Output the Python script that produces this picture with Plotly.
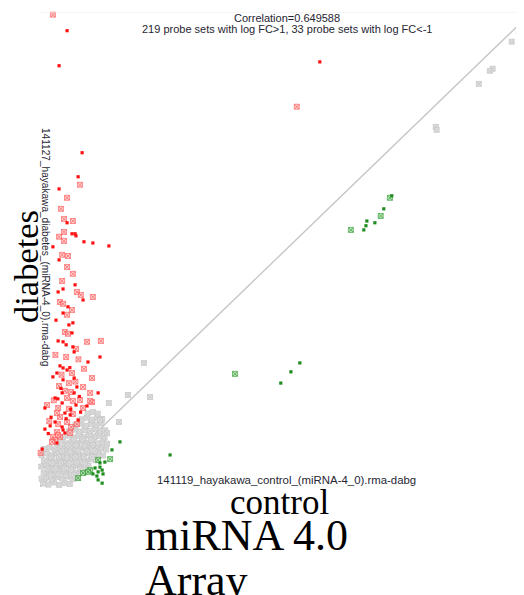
import plotly.graph_objects as go

# ---- data (log2 signal, control on x, diabetes on y) ----
red_dot_x = [0.88, 0.62, 9.10, 1.37, 1.24, 0.62, 0.88, 1.04, 1.14, 1.17, 1.43, 1.72, 2.24, 0.42, 0.62,
             1.14, 0.75, 0.59, 1.40, 0.91, 0.75, 1.07, 0.94, 1.04, 0.59, 0.75, 0.85, 1.07, 1.11, 1.95,
             1.56, 0.65, 0.75, 0.88, 0.55, 1.11, 0.42, 0.75, 1.20, 1.11, 0.72, 0.49, 0.72, 1.17, 0.16,
             0.81, 1.24, 0.49, 0.33, 0.72, 0.81, 1.53, 0.98, 0.16, 0.75, 0.55, 0.07, 1.89,
             0.52, 0.97, 1.28, 0.68, 0.36, 1.00, 0.58, 0.27, 0.85, 1.32]
red_dot_y = [15.37, 14.19, 14.32, 11.26, 10.45, 10.04, 8.90, 8.53, 8.53, 8.46, 8.26, 8.22, 8.12, 8.09, 7.65,
             6.81, 6.67, 6.57, 6.30, 6.07, 5.86, 5.53, 5.46, 5.19, 4.92, 4.89, 4.79, 4.72, 4.55, 4.38,
             4.21, 4.08, 4.01, 3.94, 3.84, 3.67, 3.71, 3.61, 3.37, 3.17, 3.17, 3.00, 2.83, 2.76, 2.66,
             2.49, 2.26, 2.19, 2.06, 2.02, 1.82, 2.73, 2.43, 1.95, 1.92, 1.48, 1.28, 3.17,
             5.62, 4.02, 3.05, 3.32, 2.35, 2.62, 2.97, 1.80, 2.30, 2.52]

red_box_x = [0.42, 0.88, 8.35, 1.30, 0.88, 0.68, 0.78, 1.07, 0.78, 0.62, 0.78, 0.72, 0.91, 0.88, 1.07,
             0.72, 1.20, 1.33, 1.72, 0.65, 0.75, 1.04, 0.88, 0.81, 0.91, 1.53, 1.98, 1.17, 0.85, 1.43,
             1.04, 1.69, 0.94, 0.62, 1.40, 0.81, 1.01, 1.63, 0.88, 1.07, 1.30, 0.23, 0.59, 0.94, 1.07,
             0.65, 0.88, 1.01, 0.55, 0.65, 1.40, 1.69, 0.55, 1.20, 0.59, 0.98, 0.42, 0.59, 0.49, 0.39,
             0.02, 1.63, 0.50, 1.25, 0.70, 0.45, 1.15, 0.30]
red_box_y = [15.91, 16.04, 12.81, 10.18, 9.74, 9.37, 9.03, 8.96, 8.59, 8.43, 8.29, 7.82, 7.78, 7.41, 7.18,
             6.94, 6.57, 6.47, 6.40, 6.23, 6.17, 5.96, 5.80, 5.22, 5.16, 4.89, 4.92, 4.65, 4.38, 3.98,
             3.84, 3.67, 3.50, 3.40, 3.37, 3.24, 3.20, 3.17, 3.00, 2.90, 2.93, 2.76, 2.66, 2.63, 2.46,
             2.36, 2.19, 2.02, 1.85, 1.69, 2.66, 2.86, 2.49, 2.12, 2.12, 1.82, 1.69, 1.75, 1.58, 1.52,
             1.15, 2.90, 4.45, 4.30, 3.78, 2.92, 3.55, 2.22]

green_dot_x = [11.44, 11.18, 10.63, 10.89, 10.60, 10.53, 8.45, 8.16, 7.83, 4.23, 2.60, 2.34, 1.95, 1.79,
               2.02, 1.89, 1.72, 1.85, 2.05, 1.89, 2.02, 2.11, 1.95]
green_dot_y = [9.81, 9.37, 8.96, 8.90, 8.80, 8.66, 4.18, 3.88, 3.50, 1.08, 1.52, 1.25, 0.67, 0.64,
               0.57, 0.51, 0.44, 0.37, 0.44, 0.24, 0.13, 0.84, 0.81]
green_box_x = [11.38, 11.08, 10.11, 6.34, 2.28, 1.89, 1.63, 1.40, 1.56, 1.24]
green_box_y = [9.74, 9.13, 8.66, 3.81, 0.94, 0.91, 0.57, 0.47, 0.51, 0.30]

gray_x = [0.10, 0.27, 0.45, 0.62, 0.80, 0.97,
          0.05, 0.20, 0.38, 0.55, 0.72, 0.90, 1.06, 1.22,
          0.12, 0.30, 0.47, 0.64, 0.82, 0.99, 1.15, 1.32, 1.45,
          0.04, 0.21, 0.38, 0.56, 0.73, 0.90, 1.07, 1.24, 1.40, 1.58,
          0.13, 0.30, 0.47, 0.64, 0.81, 0.98, 1.15, 1.32, 1.49, 1.66, 1.82,
          0.05, 0.22, 0.39, 0.56, 0.73, 0.90, 1.07, 1.24, 1.41, 1.58, 1.75, 1.92, 2.05,
          0.14, 0.31, 0.48, 0.65, 0.82, 0.99, 1.16, 1.33, 1.50, 1.67, 1.84, 2.00, 2.15,
          0.55, 0.70, 0.86, 1.03, 1.20, 1.37, 1.54, 1.71, 1.88, 2.05, 2.18,
          0.75, 0.92, 1.09, 1.26, 1.43, 1.60, 1.77, 1.94, 2.10,
          0.95, 1.12, 1.29, 1.46, 1.63, 1.80, 1.97, 2.12,
          1.15, 1.32, 1.49, 1.66, 1.83, 2.00,
          1.35, 1.52, 1.69, 1.86, 2.02,
          1.55, 1.72, 1.88,
          0.35, 0.60, 0.85, 1.10, 0.25, 0.50, 0.78, 1.02, 1.30, 0.40, 0.68, 0.95, 1.20, 1.45,
          0.35, 0.62, 0.88, 1.15, 1.42, 1.70, 0.72, 0.98, 1.25, 1.52, 1.78, 0.90, 1.18, 1.45,
          1.72, 1.10, 1.38, 1.65,
          2.86, 3.58, 2.57, 2.24, 1.95, 2.18, 3.38,
          15.57, 15.34, 14.72, 14.63, 14.27, 12.87, 12.90]
gray_y = [0.12, 0.08, 0.15, 0.07, 0.13, 0.10,
          0.28, 0.33, 0.26, 0.34, 0.29, 0.35, 0.27, 0.31,
          0.48, 0.53, 0.46, 0.52, 0.49, 0.55, 0.47, 0.52, 0.50,
          0.69, 0.73, 0.67, 0.72, 0.70, 0.75, 0.68, 0.73, 0.69, 0.71,
          0.88, 0.93, 0.87, 0.92, 0.89, 0.94, 0.87, 0.92, 0.88, 0.93, 0.90,
          1.08, 1.13, 1.07, 1.12, 1.09, 1.14, 1.08, 1.12, 1.07, 1.13, 1.09, 1.11, 1.06,
          1.28, 1.33, 1.27, 1.32, 1.29, 1.34, 1.28, 1.32, 1.27, 1.33, 1.29, 1.31, 1.26,
          1.48, 1.53, 1.47, 1.52, 1.49, 1.54, 1.48, 1.52, 1.47, 1.51, 1.46,
          1.68, 1.73, 1.67, 1.72, 1.69, 1.74, 1.68, 1.72, 1.67,
          1.88, 1.93, 1.87, 1.92, 1.89, 1.94, 1.88, 1.91,
          2.08, 2.13, 2.07, 2.12, 2.09, 2.14,
          2.28, 2.33, 2.27, 2.32, 2.29,
          2.48, 2.53, 2.47,
          0.40, 0.42, 0.38, 0.41, 0.61, 0.60, 0.62, 0.59, 0.61, 0.80, 0.81, 0.79, 0.82, 0.80,
          1.00, 1.01, 0.99, 1.02, 1.00, 1.01, 1.21, 1.19, 1.22, 1.20, 1.21, 1.40, 1.41, 1.39,
          1.42, 1.60, 1.61, 1.59,
          3.10, 3.03, 2.19, 2.83, 2.26, 1.82, 4.18,
          15.30, 15.00, 14.09, 14.02, 13.58, 12.13, 12.03]

axis_min, axis_max = 0, 16

title_line1 = "Correlation=0.649588"
title_line2 = "219 probe sets with log FC>1, 33 probe sets with log FC<-1"
x_label = "141119_hayakawa_control_(miRNA-4_0).rma-dabg"
y_label = "141127_hayakawa_diabetes_(miRNA-4_0).rma-dabg"

# ---- layout geometry (pixels); the page body adds an 8px offset ----
OFF = 8
W, H = 524, 595
L, R, T, B = 32, 0, 4, 116
PW, PH = W - L - R, H - T - B


def px(x):
    return (x - OFF - L) / PW


def py(y):
    return (H - B - (y - OFF)) / PH


fig = go.Figure()
fig.add_trace(go.Scatter(x=[axis_min, axis_max], y=[axis_min, axis_max], mode="lines",
                         line=dict(color="#c6c6c6", width=1.4), hoverinfo="skip"))
fig.add_trace(go.Scatter(x=gray_x, y=gray_y, mode="markers", cliponaxis=False,
                         marker=dict(symbol="square-x", size=5, color="#e0e0e0",
                                     line=dict(width=0.8, color="#c8c8c8"))))
fig.add_trace(go.Scatter(x=red_box_x, y=red_box_y, mode="markers", cliponaxis=False,
                         marker=dict(symbol="square-x", size=5, color="rgba(255,190,190,0.7)",
                                     line=dict(width=0.8, color="rgba(255,70,70,0.7)"))))
fig.add_trace(go.Scatter(x=red_dot_x, y=red_dot_y, mode="markers", cliponaxis=False,
                         marker=dict(symbol="square", size=3.2, color="#ff1010")))
fig.add_trace(go.Scatter(x=green_box_x, y=green_box_y, mode="markers", cliponaxis=False,
                         marker=dict(symbol="square-x", size=5, color="rgba(160,220,160,0.7)",
                                     line=dict(width=0.8, color="rgba(40,150,40,0.75)"))))
fig.add_trace(go.Scatter(x=green_dot_x, y=green_dot_y, mode="markers", cliponaxis=False,
                         marker=dict(symbol="square", size=3.2, color="#1e8c1e")))

fig.add_shape(type="line", xref="paper", yref="y", x0=0, x1=1, y0=axis_max, y1=axis_max,
              line=dict(color="#ececec", width=1))

small = dict(family="Liberation Sans, Arial", size=11, color="#262633")
big = "Liberation Serif, Times New Roman, serif"
ann = [
    dict(text=title_line1, x=px(287), y=py(18), font=small),
    dict(text=title_line2, x=px(287), y=py(29), font=small),
    dict(text=x_label, x=px(286), y=py(480), font=dict(family="Liberation Sans, Arial", size=11.4, color="#262633")),
    dict(text=y_label, x=px(46), y=py(247), textangle=90,
         font=dict(family="Liberation Sans, Arial", size=10.1, color="#262633")),
    dict(text="diabetes", x=px(26), y=py(267), textangle=-90,
         font=dict(family=big, size=34.5, color="#000")),
    dict(text="control", x=px(279), y=py(502), font=dict(family=big, size=35, color="#000")),
    dict(text="miRNA 4.0", x=px(143), y=py(535), xanchor="left", font=dict(family=big, size=44, color="#000")),
    dict(text="Array", x=px(143), y=py(580), xanchor="left", font=dict(family=big, size=44, color="#000")),
]
for a in ann:
    a.setdefault("xanchor", "center")
    a.update(xref="paper", yref="paper", yanchor="middle", showarrow=False)

fig.update_layout(
    width=W, height=H, autosize=False,
    margin=dict(l=L, r=R, t=T, b=B, pad=0),
    paper_bgcolor="white", plot_bgcolor="white",
    showlegend=False, annotations=ann,
    xaxis=dict(range=[axis_min, axis_max], showgrid=False, zeroline=False, showline=False,
               showticklabels=False, ticks=""),
    yaxis=dict(range=[axis_min, axis_max], showgrid=False, zeroline=False, showline=False,
               showticklabels=False, ticks=""),
)

fig.write_html("out.html")
